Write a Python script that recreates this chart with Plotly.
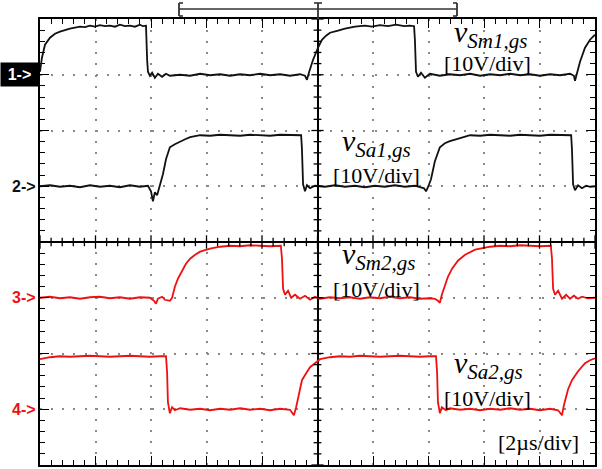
import plotly.graph_objects as go

# ---- data (time in microseconds, voltage in volts) ----
t1 = [-10.00,-9.93,-9.82,-9.64,-9.46,-9.28,-8.92,-8.56,-8.38,-8.20,-8.02,-7.84,-7.66,-7.48,-7.30,-7.12,-6.94,-6.76,-6.58,-6.40,-6.29,-6.18,-6.14,-6.11,-6.04,-5.96,-5.86,-5.75,-5.60,-5.46,-5.32,-4.95,-4.59,-4.23,-3.87,-3.51,-3.15,-2.79,-2.43,-2.07,-1.71,-1.35,-0.99,-0.63,-0.45,-0.38,-0.31,-0.16,0.02,0.16,0.31,0.45,0.74,0.99,1.35,1.71,1.96,2.25,2.54,2.83,3.12,3.33,3.48,3.51,3.55,3.62,3.73,3.87,4.05,4.41,4.77,5.14,5.50,5.86,6.22,6.58,6.94,7.30,7.66,8.02,8.38,8.74,9.10,9.24,9.28,9.35,9.46,9.64,9.82,10.0]
v1 = [0.54,3.05,5.39,6.64,7.36,7.72,8.26,8.62,8.55,8.80,8.62,8.90,8.71,8.80,8.62,8.98,8.71,8.80,8.62,8.98,8.71,8.80,2.69,0.54,-0.18,0.36,-0.54,0.18,-0.36,0.18,-0.18,0.00,-0.18,0.18,-0.09,0.09,-0.18,0.09,-0.09,0.18,-0.09,0.09,-0.18,0.09,-0.18,-0.90,0.36,2.69,4.85,6.28,7.00,7.54,7.90,8.26,8.62,8.80,8.62,8.90,8.71,8.98,8.71,8.80,8.71,6.28,0.54,-0.36,0.36,-0.54,0.18,-0.18,0.09,-0.09,0.18,-0.18,0.09,-0.09,0.18,-0.09,0.09,-0.18,0.09,-0.09,0.18,-0.18,-1.08,0.18,2.33,4.85,6.28,7.18]

t2 = [-10.0,-9.64,-9.28,-8.92,-8.56,-8.20,-7.84,-7.48,-7.12,-6.76,-6.40,-6.11,-6.00,-5.93,-5.86,-5.78,-5.68,-5.57,-5.46,-5.32,-5.14,-4.95,-4.77,-4.59,-4.23,-3.87,-3.51,-3.15,-2.79,-2.43,-2.07,-1.71,-1.35,-0.99,-0.59,-0.56,-0.52,-0.45,-0.38,-0.27,-0.09,0.27,0.63,0.99,1.35,1.71,2.07,2.43,2.79,3.15,3.51,3.84,3.91,3.98,4.09,4.23,4.41,4.59,4.77,5.14,5.50,5.86,6.22,6.58,6.94,7.30,7.66,8.02,8.38,8.74,9.14,9.17,9.21,9.28,9.39,9.53,9.68,9.82,10.0]
v2 = [0.0,0.18,-0.09,0.09,-0.18,0.18,-0.09,0.09,-0.18,0.18,-0.09,0.09,-0.90,-2.69,-1.08,-1.62,0.18,2.15,4.85,7.00,7.54,8.08,8.44,8.80,9.15,9.06,9.24,9.15,9.06,9.24,9.15,9.06,9.24,9.15,9.15,6.64,0.36,-0.90,0.18,-0.36,0.09,-0.09,0.18,-0.09,0.09,-0.18,0.09,-0.09,0.18,-0.09,0.09,-0.36,-0.90,-0.18,1.26,4.49,7.00,7.72,8.08,8.62,9.15,9.06,9.24,9.15,9.06,9.24,9.15,9.06,9.24,9.15,9.15,6.64,0.36,-0.72,0.18,-0.36,0.09,-0.09,0.0]

t3 = [-10.0,-9.64,-9.28,-8.92,-8.56,-8.20,-7.84,-7.48,-7.12,-6.76,-6.40,-6.04,-5.89,-5.82,-5.75,-5.60,-5.50,-5.32,-5.24,-5.14,-5.03,-4.88,-4.74,-4.59,-4.41,-4.23,-3.87,-3.51,-3.15,-2.79,-2.43,-2.07,-1.71,-1.32,-1.28,-1.24,-1.17,-1.06,-0.95,-0.81,-0.63,-0.45,-0.27,-0.09,0.09,0.45,0.81,1.17,1.53,1.89,2.25,2.61,2.97,3.33,3.69,4.05,4.23,4.34,4.41,4.48,4.56,4.70,4.85,5.06,5.32,5.68,6.22,6.58,6.94,7.30,7.66,8.02,8.41,8.45,8.49,8.56,8.67,8.81,8.96,9.10,9.24,9.39,9.53,9.75,10.0]
v3 = [0.0,0.18,-0.09,0.09,-0.18,0.09,0.18,-0.09,0.09,-0.18,0.09,0.0,-0.54,-1.08,-0.18,0.18,-0.36,-0.54,0.0,1.97,3.41,4.85,6.10,7.00,7.72,8.26,8.80,9.15,9.33,9.24,9.42,9.33,9.24,9.33,7.00,1.62,0.54,1.26,0.0,0.54,-0.18,0.36,-0.36,0.18,-0.18,0.09,-0.09,0.09,-0.18,0.09,-0.09,0.18,-0.09,0.09,-0.18,-0.09,-0.18,-0.54,-0.90,0.54,1.62,3.77,5.21,6.64,7.72,8.62,9.15,9.33,9.24,9.42,9.33,9.24,9.33,7.00,1.62,0.54,1.26,-0.18,0.54,-0.18,0.36,-0.18,0.18,-0.09,0.0]

t4 = [-10.0,-9.82,-9.64,-9.28,-8.92,-8.56,-8.20,-7.84,-7.48,-7.12,-6.76,-6.40,-6.04,-5.68,-5.46,-5.42,-5.39,-5.32,-5.24,-5.14,-4.95,-4.59,-4.23,-3.87,-3.51,-3.15,-2.79,-2.43,-2.07,-1.71,-1.35,-0.99,-0.92,-0.85,-0.77,-0.63,-0.56,-0.41,-0.27,-0.09,0.09,0.45,0.81,1.17,1.53,1.89,2.25,2.61,2.97,3.33,3.69,4.05,4.27,4.31,4.34,4.41,4.48,4.63,4.77,5.14,5.50,5.86,6.22,6.58,6.94,7.30,7.66,8.02,8.38,8.67,8.74,8.81,8.88,9.03,9.17,9.39,9.64,9.82,10.0]
v4 = [8.98,9.15,9.33,9.51,9.42,9.51,9.60,9.51,9.42,9.51,9.60,9.51,9.42,9.51,9.51,6.64,1.26,-0.72,0.36,-0.18,0.18,-0.09,0.09,-0.18,0.09,-0.09,0.18,-0.09,0.09,-0.18,0.09,-0.09,-0.72,-1.08,0.36,3.59,5.21,6.46,7.54,8.26,8.98,9.33,9.51,9.42,9.60,9.51,9.42,9.51,9.60,9.51,9.42,9.51,9.51,6.64,1.26,-0.72,0.36,-0.18,0.18,-0.09,0.09,-0.18,0.09,-0.09,0.18,-0.09,0.09,-0.18,0.09,-0.18,-0.72,-1.08,0.72,3.59,5.21,6.82,8.26,8.80,9.15]

channel_names = ["1", "2", "3", "4"]
channel_offsets = [3, 1, -1, -3]          # screen divisions
channel_colors = ["#111111", "#111111", "#ee1111", "#ee1111"]
volts_per_div = 10
trace_labels = ["<i>v</i><sub><i>Sm1,gs</i></sub>", "<i>v</i><sub><i>Sa1,gs</i></sub>",
                "<i>v</i><sub><i>Sm2,gs</i></sub>", "<i>v</i><sub><i>Sa2,gs</i></sub>"]
scale_label = "[10V/div]"
time_label = "[2µs/div]"

times = [t1, t2, t3, t4]
volts = [v1, v2, v3, v4]

fig = go.Figure()
for t, v, off, col in zip(times, volts, channel_offsets, channel_colors):
    fig.add_trace(go.Scatter(x=t, y=[off + vv / volts_per_div for vv in v], mode="lines",
                             line=dict(color=col, width=1.8), hoverinfo="skip", showlegend=False))

W, H = 602, 469
L, R, T, B = 40, 7, 19, 4
pw, ph = W - L - R, H - T - B
def px(x):
    return (x - L) / pw
def py(y):
    return (H - B - y) / ph

axis_common = dict(showline=True, linecolor="black", linewidth=2, mirror="allticks",
                   ticks="inside", ticklen=9, tickwidth=1.3, tickcolor="black",
                   showticklabels=False, showgrid=True, gridcolor="#8a8a8a", gridwidth=2,
                   zeroline=True, zerolinecolor="black", zerolinewidth=1.6, fixedrange=True)
fig.update_xaxes(range=[-10, 10], dtick=2, tick0=0, griddash="2px,9.1px",
                 minor=dict(dtick=0.4, tick0=0, ticks="inside", ticklen=5, tickcolor="black", showgrid=False),
                 **axis_common)
fig.update_yaxes(range=[-4, 4], dtick=1, tick0=0, griddash="2px,9.15px",
                 minor=dict(dtick=0.2, tick0=0, ticks="inside", ticklen=5, tickcolor="black", showgrid=False),
                 **axis_common)

shapes = []
# crosshair tick marks on the centre axes
for k in range(-25, 26):
    x = k * 0.4
    h = 0.12 if k % 5 == 0 else 0.075
    shapes.append(dict(type="line", x0=x, x1=x, y0=-h, y1=h, xref="x", yref="y",
                       line=dict(color="black", width=1.3)))
for k in range(-20, 21):
    y = k * 0.2
    h = 0.22 if k % 5 == 0 else 0.14
    shapes.append(dict(type="line", x0=-h, x1=h, y0=y, y1=y, xref="x", yref="y",
                       line=dict(color="black", width=1.3)))

# memory / trigger indicator bar above the screen
bar_col = "#333333"
def seg(x0, y0, x1, y1, w=1.6):
    return dict(type="line", xref="paper", yref="paper", x0=px(x0), x1=px(x1), y0=py(y0), y1=py(y1),
                line=dict(color=bar_col, width=w))
shapes += [
    seg(179, 9, 457, 9), seg(179, 3, 179, 16, 1.8), seg(179, 3, 183, 3), seg(179, 16, 183, 16),
    seg(457, 3, 457, 16, 1.8), seg(453, 3, 457, 3), seg(453, 16, 457, 16),
    seg(318, 3, 318, 19, 1.8), seg(314, 3, 322, 3),
]

annotations = []
# channel markers
for name, off, col in zip(channel_names, channel_offsets, channel_colors):
    if name == "1":
        annotations.append(dict(text="1-&gt;", xref="paper", yref="y", x=px(39), y=off,
                                xanchor="right", yanchor="middle", showarrow=False,
                                bgcolor="black", width=35, height=21, align="center",
                                font=dict(family="Liberation Sans", size=16, color="white", weight="bold")))
    else:
        annotations.append(dict(text=name + "-&gt;", xref="paper", yref="y", x=px(38), y=off,
                                xanchor="right", yanchor="middle", showarrow=False,
                                font=dict(family="Liberation Sans", size=16, color=col, weight="bold")))

serif = "Liberation Serif"
label_pos = [(4.85, 3.73), (0.82, 1.78), (0.82, -0.25), (4.85, -2.2)]
scale_pos = [(6.14, 3.2), (2.14, 1.2), (2.14, -0.86), (6.14, -2.81)]
for lab, (lx, ly), (sx, sy) in zip(trace_labels, label_pos, scale_pos):
    annotations.append(dict(text=lab, x=lx, y=ly, xref="x", yref="y", xanchor="left", yanchor="middle",
                            showarrow=False, font=dict(family=serif, size=30, color="black")))
    annotations.append(dict(text=scale_label, x=sx, y=sy, xref="x", yref="y", xanchor="center", yanchor="middle",
                            showarrow=False, font=dict(family=serif, size=22, color="black")))
annotations.append(dict(text=time_label, x=7.98, y=-3.6, xref="x", yref="y", xanchor="center", yanchor="middle",
                        showarrow=False, font=dict(family=serif, size=22, color="black")))

fig.update_layout(width=W, height=H, margin=dict(l=L, r=R, t=T, b=B, pad=0),
                  plot_bgcolor="white", paper_bgcolor="white",
                  shapes=shapes, annotations=annotations, showlegend=False)

fig.write_html("out.html", config={"displayModeBar": False},
               post_script="document.body.style.margin='0px';document.body.style.overflow='hidden';")
